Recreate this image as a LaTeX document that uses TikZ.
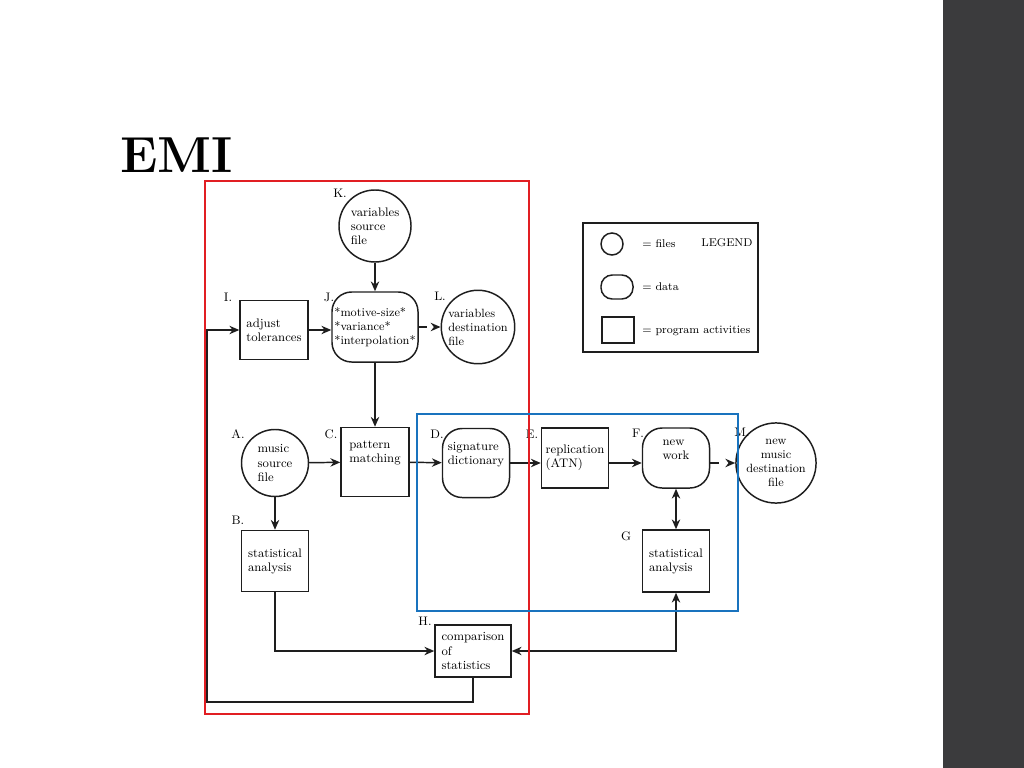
\documentclass[tikz,border=0pt]{standalone}
\usepackage{tikz}
\usetikzlibrary{shapes.geometric,arrows.meta,positioning,calc}
\usepackage{xcolor}
\definecolor{cRedLine}{RGB}{225,30,35}
\definecolor{cBlueLine}{RGB}{25,115,190}
\definecolor{cSide}{RGB}{59,59,61}
\definecolor{cInk}{RGB}{30,30,30}
\tikzset{
  basebox/.style={draw=cInk,line width=1.05pt,align=left,inner sep=1pt,
                  font=\fontsize{8.8}{10}\selectfont},
  filenode/.style={basebox,circle,minimum size=1.675cm},
  datanode/.style={basebox,rectangle,rounded corners=14pt,
                   minimum width=1.675cm,minimum height=1.725cm},
  prognode/.style={basebox,rectangle,minimum width=1.675cm,minimum height=1.5cm},
  lbl/.style={font=\fontsize{8.8}{10}\selectfont,inner sep=0pt},
  legtext/.style={font=\fontsize{8}{10}\selectfont,inner sep=0pt,anchor=west},
  arr/.style={-{Stealth[length=7pt,width=6pt]},line width=1.05pt,color=cInk},
  dasharr/.style={arr,dash pattern=on 6pt off 7pt},
  dblarr/.style={{Stealth[length=7pt,width=6pt]}-{Stealth[length=7pt,width=6pt]},
                 line width=1.05pt,color=cInk},
  redframe/.style={draw=cRedLine,line width=1.3pt},
  blueframe/.style={draw=cBlueLine,line width=1.3pt}
}
\begin{document}
\begin{tikzpicture}[x=0.025cm,y=-0.025cm]

  \useasboundingbox (0,0) rectangle (1024,768);
  \fill[cSide] (943,0) rectangle (1024,768);

  \node[anchor=base west,inner sep=0pt,font=\fontsize{36}{40}\selectfont\bfseries] (title)
      at (120,172) {EMI};

  \node[filenode,minimum size=1.8cm] (k) at (375,226) {variables\\source\\file};
  \node[datanode,minimum width=2.15cm,minimum height=1.75cm,font=\fontsize{8.5}{10}\selectfont]
      (j) at (375,327) {*motive-size*\\*variance*\\*interpolation*};
  \node[prognode,minimum width=1.7cm,minimum height=1.475cm] (i) at (274,330)
      {adjust\\tolerances};
  \node[filenode,minimum size=1.65cm,font=\fontsize{8.5}{10}\selectfont] (l) at (478,327)
      {variables\\destination\\file};

  \node[filenode] (a) at (275,463) {music\\source\\file};
  \node[prognode,minimum width=1.7cm,minimum height=1.725cm] (c) at (375,462)
      {pattern\\matching\\[4pt]};
  \node[datanode] (d) at (476,463) {signature\\dictionary\\[4pt]};
  \node[prognode] (e) at (575,458) {replication\\(ATN)};
  \node[datanode,minimum height=1.5cm] (f) at (676,458) {new\\work\\[2pt]};
  \node[filenode,minimum size=1.65cm,align=center,font=\fontsize{8.5}{10}\selectfont]
      (m) at (776,463) {new\\music\\destination\\file};

  \node[prognode,minimum height=1.525cm] (b) at (275,561) {statistical\\analysis};
  \node[prognode,minimum height=1.55cm] (g) at (676,561) {statistical\\analysis};
  \node[prognode,minimum width=1.9cm,minimum height=1.3cm] (h) at (473,651)
      {comparison\\of\\statistics};

  \node[lbl] (lk) at (340,193) {K.};
  \node[lbl] (li) at (228,297) {I.};
  \node[lbl] (lj) at (329,297) {J.};
  \node[lbl] (ll) at (440,296) {L.};
  \node[lbl] (la) at (238,434) {A.};
  \node[lbl] (lc) at (331,434) {C.};
  \node[lbl] (ld) at (437,434) {D.};
  \node[lbl] (le) at (532,434) {E.};
  \node[lbl] (lf) at (638,433) {F.};
  \node[lbl] (lm) at (742,432) {M.};
  \node[lbl] (lb) at (238,520) {B.};
  \node[lbl] (lg) at (626,536) {G};
  \node[lbl] (lh) at (425,621) {H.};

  \draw[arr] (k) -- (j);
  \draw[arr] (i.east) -- (i.east -| j.west);
  \draw[dasharr] (j.east |- l.west) -- (l.west);
  \draw[arr] (j) -- (c);
  \draw[arr] (a) -- (c);
  \draw[arr] (c) -- (d);
  \draw[arr] (d.east) -- (d.east -| e.west);
  \draw[arr] (e.east |- d.east) -- (f.west |- d.east);
  \draw[dasharr] (f.east |- m.west) -- (m.west);
  \draw[arr] (a) -- (b);
  \draw[dblarr] (f) -- (g);
  \draw[arr] (b.south) |- (h.west);
  \draw[dblarr] (h.east) -| (g.south);
  \coordinate (loop) at (207,702);
  \draw[arr] (h.south) |- (loop) |- (i.west);

  \draw[redframe] (205,181) rectangle (529,714);
  \draw[blueframe] (417,414) rectangle (738,611);

  \draw[basebox,line width=0.9pt] (583,223) rectangle (758,352);
  \node[basebox,circle,minimum size=0.55cm] (lgfile) at (612,244) {};
  \node[basebox,rounded corners=8pt,minimum width=0.8cm,minimum height=0.6cm]
      (lgdata) at (617,287) {};
  \node[basebox,minimum width=0.8cm,minimum height=0.65cm] (lgprog) at (618,330) {};
  \node[legtext] (tfile) at (642,244) {= files};
  \node[legtext] (tlegend) at (701,243) {LEGEND};
  \node[legtext] (tdata) at (642,287) {= data};
  \node[legtext] (tprog) at (642,331) {= program activities};

\end{tikzpicture}
\end{document}
